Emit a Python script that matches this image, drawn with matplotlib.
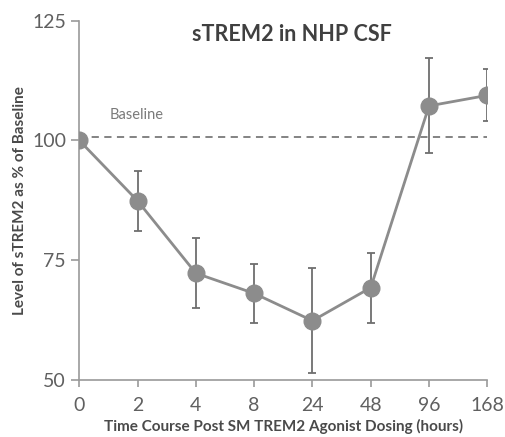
import numpy as np
import matplotlib
matplotlib.use("Agg")
import matplotlib.pyplot as plt

plt.rcParams['font.family'] = ['Lato', 'DejaVu Sans']

# data
time_labels = ['0', '2', '4', '8', '24', '48', '96', '168']
level = [100, 87.4, 72.3, 68.1, 62.4, 69.3, 107.2, 109.4]
err = [0, 6.3, 7.3, 6.2, 10.9, 7.3, 9.9, 5.4]
baseline = 100.8

fig = plt.figure(figsize=(5.05, 4.37), dpi=100)
ax = fig.add_axes([0.157, 0.130, 0.808, 0.823])

x = np.arange(len(time_labels))
ax.errorbar(x, level, yerr=err, fmt='none', ecolor='#6e6e6e', elinewidth=1.3,
            capsize=3, capthick=1.3, zorder=2)
ax.plot(x, level, color='#8c8c8c', linewidth=2, marker='o', markersize=12,
        markerfacecolor='#8c8c8c', markeredgecolor='#8c8c8c', zorder=3)
ax.plot([x[0], x[-1]], [baseline, baseline], linestyle=(0, (4, 3)),
        color='#7a7a7a', linewidth=1.3, zorder=1)
ax.text(0.52, 105.2, 'Baseline', color='#7a7a7a', fontsize=10.5, va='center')

ax.set_xlim(0, len(time_labels) - 1)
ax.set_ylim(50, 125)
ax.set_yticks([50, 75, 100, 125])
ax.set_xticks(x)
ax.set_xticklabels(time_labels)

for s in ['top', 'right']:
    ax.spines[s].set_visible(False)
for s in ['left', 'bottom']:
    ax.spines[s].set_color('#9a9a9a')
    ax.spines[s].set_linewidth(1.2)
ax.tick_params(colors='#9a9a9a', labelcolor='#606060', labelsize=14, width=1.2, length=6)
ax.tick_params(axis='x', length=5, pad=7)
ax.spines['left'].set_clip_on(False)

ax.set_title('sTREM2 in NHP CSF', fontsize=15.5, fontweight='bold', color='#404040',
             x=0.52, y=0.92)
ax.set_xlabel('Time Course Post SM TREM2 Agonist Dosing (hours)', fontsize=11,
              fontweight='bold', color='#4a4a4a', labelpad=4)
ax.set_ylabel('Level of sTREM2 as % of Baseline', fontsize=11, fontweight='bold',
              color='#4a4a4a', labelpad=4)

fig.savefig('out.png', dpi=100)
